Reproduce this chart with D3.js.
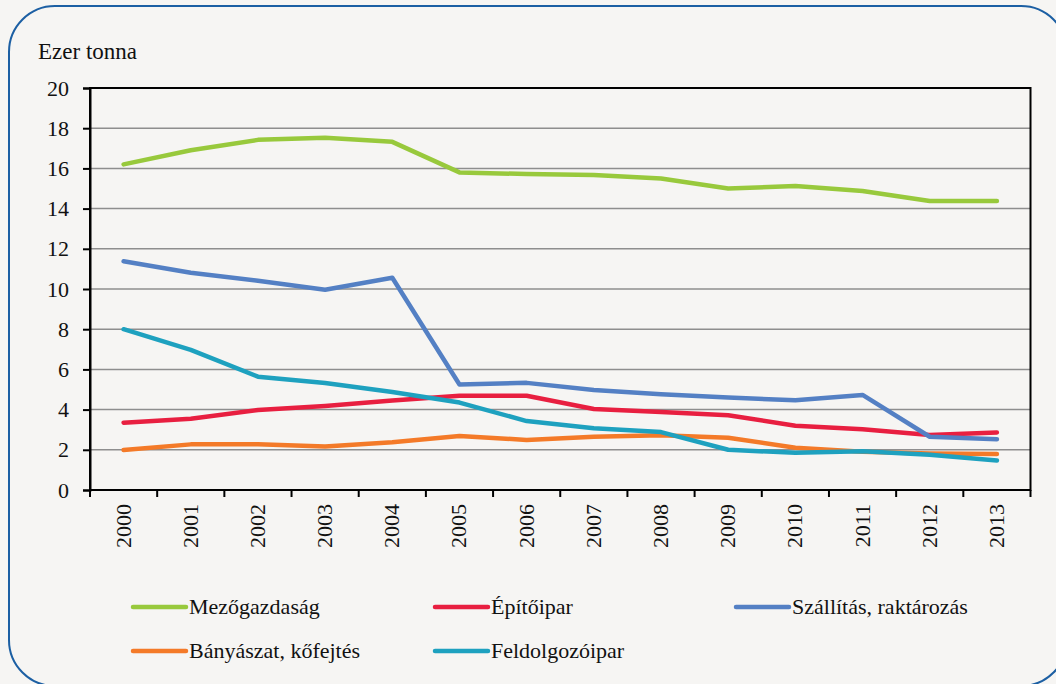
<!DOCTYPE html>
<html>
<head>
<meta charset="utf-8">
<script src="https://cdn.jsdelivr.net/npm/d3@7"></script>
<style>
  body { margin: 0; background: #f6f5f3; }
  svg { display: block; font-family: "Liberation Serif", "DejaVu Serif", serif; }
</style>
</head>
<body>
<svg id="chart" width="1056" height="684"></svg>
<script>
// years on the x axis
var years = ["2000","2001","2002","2003","2004","2005","2006","2007","2008","2009","2010","2011","2012","2013"];
var yTicks = [0,2,4,6,8,10,12,14,16,18,20];

// series values, ezer tonna
var mezogazdasag = [16.2,16.9,17.42,17.53,17.32,15.8,15.72,15.67,15.5,15.0,15.12,14.88,14.38,14.38];
var epitoipar    = [3.35,3.55,3.98,4.18,4.45,4.69,4.69,4.03,3.88,3.72,3.2,3.02,2.74,2.86];
var szallitas    = [11.38,10.81,10.41,9.96,10.56,5.25,5.33,4.98,4.76,4.6,4.46,4.73,2.65,2.53];
var banyaszat    = [1.99,2.27,2.27,2.17,2.38,2.69,2.49,2.65,2.72,2.6,2.1,1.9,1.82,1.79];
var feldolgozo   = [8.0,6.97,5.64,5.32,4.88,4.35,3.43,3.07,2.88,2.0,1.85,1.93,1.75,1.47];

var series = [
  {name: "Mezőgazdaság", values: mezogazdasag, color: "#98c93c"},
  {name: "Építőipar", values: epitoipar, color: "#e81f40"},
  {name: "Szállítás, raktározás", values: szallitas, color: "#5480c4"},
  {name: "Bányászat, kőfejtés", values: banyaszat, color: "#f47a28"},
  {name: "Feldolgozóipar", values: feldolgozo, color: "#1ea1bf"}
];

var svg = d3.select("#chart");
var pLeft = 90, pRight = 1030.5, pTop = 88, pBottom = 490;
var fs = 22;

// outer rounded frame
svg.append("rect")
  .attr("x", 9).attr("y", 6)
  .attr("width", 1058).attr("height", 680)
  .attr("rx", 46).attr("ry", 46)
  .attr("fill", "#f6f5f3")
  .attr("stroke", "#1c5fa3")
  .attr("stroke-width", 2);

var x = d3.scaleBand().domain(years).range([pLeft, pRight]);
var y = d3.scaleLinear().domain([0, 20]).range([pBottom, pTop]);

// gridlines
svg.append("g")
  .selectAll("line")
  .data(yTicks.filter(function(d){ return d > 0 && d < 20; }))
  .enter().append("line")
  .attr("x1", pLeft).attr("x2", pRight)
  .attr("y1", function(d){ return y(d); })
  .attr("y2", function(d){ return y(d); })
  .attr("stroke", "#8e8e8e")
  .attr("stroke-width", 1.5);

// plot border
svg.append("rect")
  .attr("x", pLeft).attr("y", pTop)
  .attr("width", pRight - pLeft).attr("height", pBottom - pTop)
  .attr("fill", "none")
  .attr("stroke", "#000")
  .attr("stroke-width", 2);

// y axis
var yAxis = svg.append("g")
  .attr("transform", "translate(" + pLeft + ",0)")
  .call(d3.axisLeft(y).tickValues(yTicks).tickSize(7).tickPadding(14));
yAxis.select(".domain").attr("stroke", "#000").attr("stroke-width", 2);
yAxis.selectAll(".tick line").attr("stroke", "#000").attr("stroke-width", 2);
yAxis.selectAll("text")
  .attr("font-family", "Liberation Serif, serif")
  .attr("font-size", fs)
  .attr("fill", "#111");

// x axis: ticks between categories
var xTickPos = years.map(function(d){ return x(d); }).concat([pRight]);
svg.append("g")
  .selectAll("line")
  .data(xTickPos)
  .enter().append("line")
  .attr("x1", function(d){ return d; }).attr("x2", function(d){ return d; })
  .attr("y1", pBottom).attr("y2", pBottom + 7)
  .attr("stroke", "#000").attr("stroke-width", 2);

svg.append("g")
  .selectAll("text")
  .data(years)
  .enter().append("text")
  .attr("transform", function(d){
    return "translate(" + (x(d) + x.bandwidth() / 2 + 7) + "," + (pBottom + 14) + ") rotate(-90)";
  })
  .attr("text-anchor", "end")
  .attr("font-size", fs)
  .attr("fill", "#111")
  .text(function(d){ return d; });

// axis title
svg.append("text")
  .attr("x", 38).attr("y", 59)
  .attr("font-size", 23)
  .attr("fill", "#111")
  .text("Ezer tonna");

// lines
var line = d3.line()
  .x(function(d, i){ return x(years[i]) + x.bandwidth() / 2; })
  .y(function(d){ return y(d); });

svg.append("g")
  .selectAll("path")
  .data(series)
  .enter().append("path")
  .attr("d", function(s){ return line(s.values); })
  .attr("fill", "none")
  .attr("stroke", function(s){ return s.color; })
  .attr("stroke-width", 4.5)
  .attr("stroke-linecap", "round")
  .attr("stroke-linejoin", "round");

// legend
var legendPos = [[133,607],[435,607],[736,607],[133,651],[435,651]];
var leg = svg.append("g")
  .selectAll("g")
  .data(series)
  .enter().append("g")
  .attr("transform", function(d, i){ return "translate(" + legendPos[i][0] + "," + legendPos[i][1] + ")"; });
leg.append("line")
  .attr("x1", 0).attr("x2", 53)
  .attr("stroke", function(d){ return d.color; })
  .attr("stroke-width", 4.5)
  .attr("stroke-linecap", "round");
leg.append("text")
  .attr("x", 56).attr("y", 7)
  .attr("font-size", 22)
  .attr("fill", "#111")
  .text(function(d){ return d.name; });
</script>
</body>
</html>
